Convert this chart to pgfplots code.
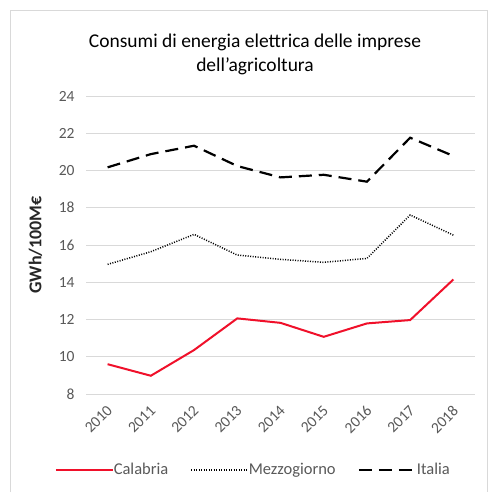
\documentclass[border=0pt]{standalone}
\usepackage{pgfplots}
\pgfplotsset{compat=1.18}
\usepackage{fontspec}
\setmainfont{Carlito}
\definecolor{gridc}{HTML}{D9D9D9}
\definecolor{tickc}{HTML}{595959}
\definecolor{redc}{HTML}{F0102A}
\begin{document}
\begin{tikzpicture}
\path[fill=white] (0pt,0pt) rectangle (494pt,492pt);
\draw[gridc,line width=0.8pt] (10pt,0pt) -- (10pt,482pt) -- (487pt,482pt) -- (487pt,0pt);
\node[font=\fontsize{19.5}{22}\selectfont, text=black] at (255pt,450pt) {Consumi di energia elettrica delle imprese};
\node[font=\fontsize{19.5}{22}\selectfont, text=black] at (255pt,426pt) {dell'agricoltura};
\begin{axis}[
  at={(86pt,98pt)}, anchor=south west,
  scale only axis, width=389pt, height=298pt,
  xmin=-0.5, xmax=8.5, ymin=8, ymax=24,
  axis line style={draw=none},
  xtick={0,...,8},
  xticklabels={2010,2011,2012,2013,2014,2015,2016,2017,2018},
  ytick={8,10,...,24},
  ymajorgrids, grid style={gridc, line width=0.8pt},
  major tick length=0pt,
  /pgf/number format/assume math mode=true,
  tick label style={font=\fontsize{15.5}{18}\selectfont, text=tickc},
  x tick label style={rotate=45, anchor=north east, xshift=-5pt, yshift=-2.7pt},
  y tick label style={xshift=-8pt},
  ylabel={\textbf{GWh/100M€}},
  ylabel style={font=\fontsize{18}{20}\selectfont, text=black!85, at={(axis description cs:-0.13,0.5)}, anchor=center, rotate=0},
  legend style={at={(0.43,-0.255)}, anchor=center, draw=none, legend columns=3,
    font=\fontsize{16.5}{19}\selectfont, text=tickc,
    /tikz/every even column/.append style={column sep=20pt},
    /tikz/every odd column/.append style={column sep=-2pt}},
  legend cell align=left,
  legend image code/.code={\draw[#1] (0pt,0pt) -- (57pt,0pt);},
]
\addplot[redc, line width=2pt] coordinates {
(0,9.60) (1,8.98) (2,10.36) (3,12.06) (4,11.82) (5,11.07) (6,11.79) (7,11.97) (8,14.15)};
\addlegendentry{Calabria}
\addplot[black, line width=1.5pt, dash pattern=on 1pt off 1.5pt] coordinates {
(0,14.96) (1,15.64) (2,16.57) (3,15.46) (4,15.23) (5,15.07) (6,15.28) (7,17.61) (8,16.53)};
\addlegendentry{Mezzogiorno}
\addplot[black, line width=2.2pt, dash pattern=on 13pt off 7pt] coordinates {
(0,20.17) (1,20.88) (2,21.33) (3,20.24) (4,19.63) (5,19.77) (6,19.40) (7,21.76) (8,20.78)};
\addlegendentry{Italia}
\end{axis}
\end{tikzpicture}
\end{document}
